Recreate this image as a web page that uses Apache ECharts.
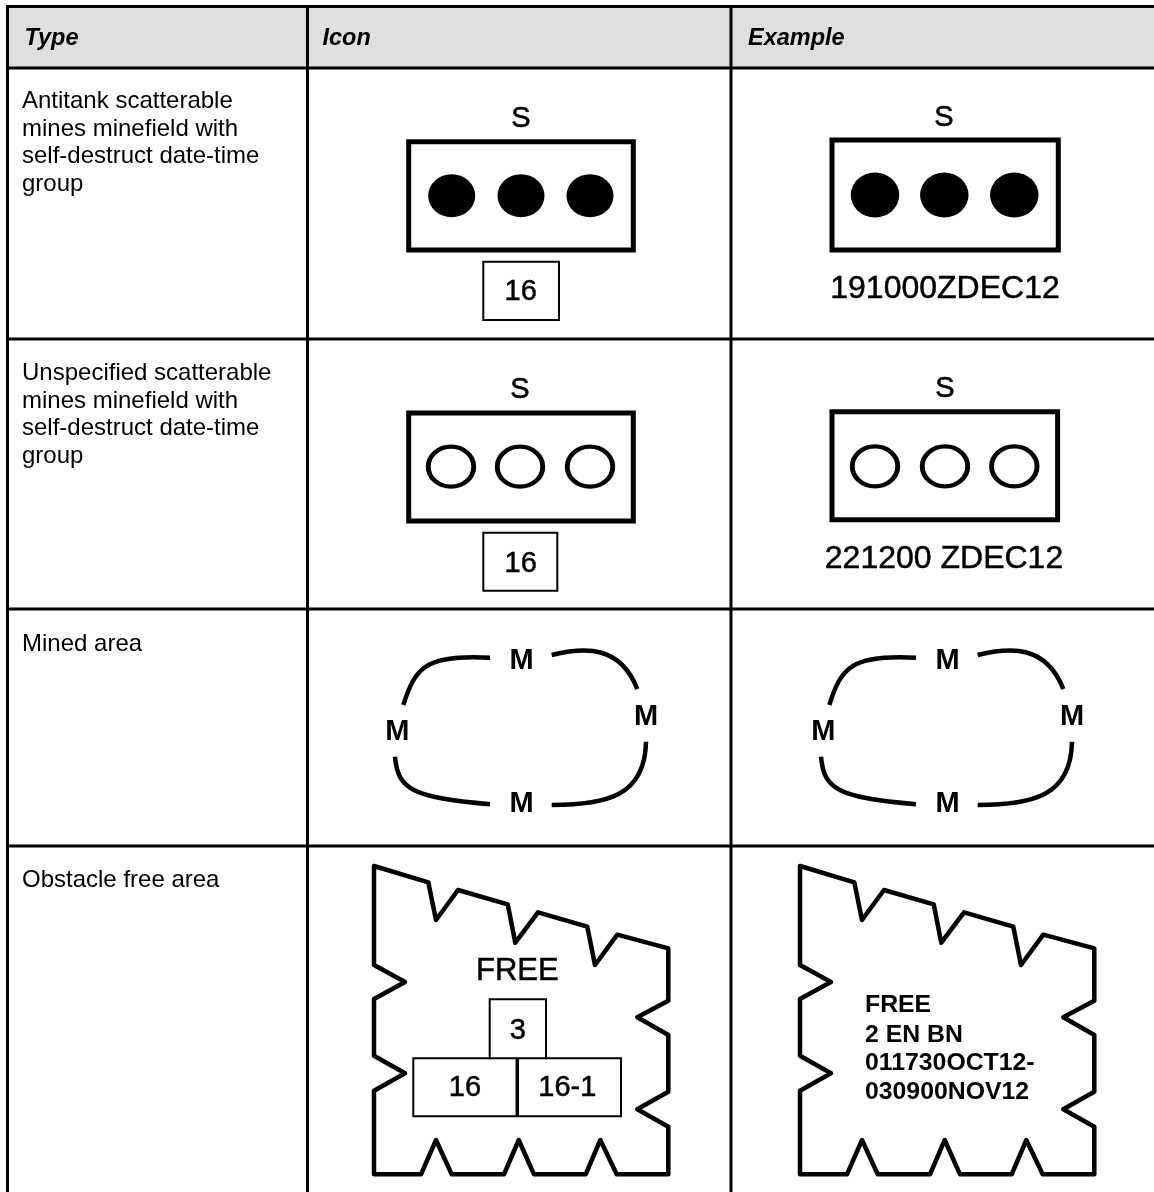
<!DOCTYPE html>
<html>
<head>
<meta charset="utf-8">
<style>html,body{margin:0;padding:0;background:#fff}#c{width:1154px;height:1192px}</style>
<script src="https://cdn.jsdelivr.net/npm/echarts@6/dist/echarts.min.js"></script>
</head>
<body>
<div id="c"></div>
<script>
// ---- table structure
const columnHeads = ['Type', 'Icon', 'Example'];
const columnEdges = [7.5, 307.5, 731];
const rowEdges = [6.5, 68, 339, 609, 846];
const pageRight = 1154, pageBottom = 1192;
const rowTypes = [
  ['Antitank scatterable', 'mines minefield with', 'self-destruct date-time', 'group'],
  ['Unspecified scatterable', 'mines minefield with', 'self-destruct date-time', 'group'],
  ['Mined area'],
  ['Obstacle free area']
];
// ---- symbol outlines
const heavyBoxes = [
  [408.7, 141.7, 633.3, 250], [832, 140, 1058.3, 250],
  [408.7, 413, 633.3, 521], [832, 411.7, 1057.6, 519.7]
];
const thinBoxes = [
  [483.3, 261.7, 559, 320], [483.3, 532.7, 557.3, 590.7],
  [413.3, 1058.3, 621, 1116.3]
];
const thinOpenLines = [
  [[489.7, 1058.3], [489.7, 999.3], [546, 999.3], [546, 1058.3]]
];
const dividerLine = [[517.3, 1058.3], [517.3, 1116.3]];
const filledMines = [[451.7, 195.7], [521, 195.7], [590, 195.7], [875, 195], [944.3, 195], [1014.3, 195]];
const hollowMines = [[451, 466.7], [520, 466.7], [590, 466.7], [875, 466.3], [945, 466.3], [1014.3, 466.3]];
// start, control 1, control 2, end
const minedCurveTL = [403.3, 705, 415, 668, 425, 654, 490, 657.7];
const minedCurveTR = [551.7, 655, 585, 647, 620, 645, 637.3, 689];
const minedCurveBL = [395, 756.7, 398, 790, 412, 797, 490, 804.3];
const minedCurveBR = [551.7, 805, 605, 805, 645, 797, 646, 741.7];
const obstacleOutline = [
  [374, 866], [428.3, 882.3], [436, 920], [458, 890], [507.7, 904.3], [515.3, 942.7], [538, 912.3],
  [587.3, 926.7], [595, 965], [617.3, 934.7], [668.3, 948.3], [668.3, 1000.7], [637.3, 1017.3],
  [668.3, 1035], [668.3, 1091.7], [637.3, 1109.3], [668.3, 1126.7], [668.3, 1174.3], [616.7, 1174.3],
  [600.3, 1140], [585.7, 1174.3], [534, 1174.3], [518.7, 1140], [504, 1174.3], [451.7, 1174.3],
  [436, 1140], [421, 1174.3], [374, 1174.3], [374, 1090.7], [405, 1073.3], [374, 1055.7], [374, 999],
  [405, 982], [374, 965], [374, 866]
];
const exampleShift = 426;
// ---- symbol labels
const letterLabels = [['S', 521, 117], ['S', 944, 116], ['S', 520, 388], ['S', 945, 387]];
const freeLabels = [['FREE', 517.3, 970]];
const numberLabels = [
  ['16', 520.7, 290.7], ['16', 520.7, 562.3], ['3', 517.7, 1029.3], ['16', 465, 1086.7], ['16-1', 567.3, 1086.7]
];
const dateLabels = [['191000ZDEC12', 945, 288], ['221200 ZDEC12', 944, 558]];
const mineLetters = [['M', 521.7, 659], ['M', 397.3, 730.7], ['M', 646, 715.7], ['M', 521.7, 802.7]];
const exampleBold = [['FREE', 865, 1003.3], ['2 EN BN', 865, 1033.3], ['011730OCT12-', 865, 1061.7], ['030900NOV12', 865, 1091]];

const FONT = '"Liberation Sans", Arial, sans-serif';
const TEXT_DROP = 1.5;
const shift = pts => pts.map(p => [p[0] + exampleShift, p[1]]);
const boxPath = b => [[b[0], b[1]], [b[2], b[1]], [b[2], b[3]], [b[0], b[3]], [b[0], b[1]]];

function lineSeries(data, width, extra) {
  return Object.assign({
    type: 'line', data, showSymbol: false, symbol: 'none', silent: true, clip: false,
    animation: false, z: 3,
    lineStyle: { color: '#000', width, join: 'miter', cap: 'square', miterLimit: 10 }
  }, extra || {});
}
function textSeries(items, fontSize, fontWeight, align, fontStyle, weight) {
  return {
    type: 'scatter', symbolSize: 1, silent: true, animation: false, z: 5, clip: false,
    itemStyle: { color: 'rgba(0,0,0,0)', opacity: 1 },
    data: items.map(t => ({ value: [t[1], t[2] + TEXT_DROP], name: t[0] })),
    label: {
      show: true, position: 'inside', formatter: p => p.name, color: '#000', fontFamily: FONT,
      fontSize, fontWeight, fontStyle: fontStyle || 'normal', align, verticalAlign: 'middle', padding: 0,
      textBorderColor: '#000', textBorderWidth: weight || 0, opacity: 1
    }
  };
}
function ellipseSeries(data, size, fill, border) {
  return {
    type: 'scatter', data, symbol: 'circle', symbolSize: size, silent: true, animation: false, z: 4,
    itemStyle: { color: fill, borderColor: '#000', borderWidth: border, opacity: 1 }
  };
}

const series = [];
// header band
series.push({
  type: 'custom', silent: true, animation: false, z: 1, clip: false,
  data: [[columnEdges[0], rowEdges[0], pageRight, rowEdges[1]]],
  renderItem: (params, api) => {
    const a = api.coord([api.value(0), api.value(1)]);
    const b = api.coord([api.value(2), api.value(3)]);
    return { type: 'rect', shape: { x: a[0], y: a[1], width: b[0] - a[0], height: b[1] - a[1] }, style: { fill: '#dfdfdf' } };
  }
});
// table rules
rowEdges.forEach(y => series.push(lineSeries([[columnEdges[0] - 1.5, y], [pageRight, y]], 3, { z: 2, lineStyle: { color: '#000', width: 3, cap: 'butt' } })));
columnEdges.forEach(x => series.push(lineSeries([[x, rowEdges[0] - 1.5], [x, pageBottom]], 3, { z: 2, lineStyle: { color: '#000', width: 3, cap: 'butt' } })));
// symbols
heavyBoxes.forEach(b => series.push(lineSeries(boxPath(b), 5)));
thinBoxes.forEach(b => series.push(lineSeries(boxPath(b), 2)));
thinOpenLines.forEach(l => series.push(lineSeries(l, 2)));
series.push(lineSeries(dividerLine, 4, { lineStyle: { color: '#000', width: 3.5, cap: 'butt' } }));
// mined-area arcs, icon and example
const curves = [minedCurveTL, minedCurveTR, minedCurveBL, minedCurveBR];
const curveRows = [];
curves.forEach(c => {
  curveRows.push(c);
  curveRows.push(c.map((v, i) => i % 2 === 0 ? v + exampleShift : v));
});
series.push({
  type: 'custom', silent: true, animation: false, z: 3, clip: false,
  encode: { x: [0, 2, 4, 6], y: [1, 3, 5, 7] },
  data: curveRows,
  renderItem: (params, api) => {
    const p = [0, 2, 4, 6].map(i => api.coord([api.value(i), api.value(i + 1)]));
    return {
      type: 'bezierCurve',
      shape: { x1: p[0][0], y1: p[0][1], cpx1: p[1][0], cpy1: p[1][1], cpx2: p[2][0], cpy2: p[2][1], x2: p[3][0], y2: p[3][1] },
      style: { stroke: '#000', lineWidth: 4.5, fill: null, lineCap: 'butt' }
    };
  }
});
[obstacleOutline, shift(obstacleOutline)].forEach(d => series.push(lineSeries(d, 4.5, { lineStyle: { color: '#000', width: 4.5, join: 'round', cap: 'round' } })));
series.push(ellipseSeries(filledMines.slice(0, 3), [47, 43], '#000', 0));
series.push(ellipseSeries(filledMines.slice(3), [48.5, 45], '#000', 0));
series.push(ellipseSeries(hollowMines, [45.5, 40], '#fff', 4.6));
// text
const headRow = columnHeads.map((h, i) => [h, [24.5, 322.5, 748][i], 37]);
series.push(textSeries(headRow, 23.5, 'bold', 'left', 'italic'));
const typeLines = [];
rowTypes.forEach((lines, r) => lines.forEach((s, i) => typeLines.push([s, 22, [100, 372, 643, 879][r] + i * 27.6])));
series.push(textSeries(typeLines, 24, 'normal', 'left'));
series.push(textSeries(letterLabels, 29, 'normal', 'center', 'normal', 0.6));
series.push(textSeries(freeLabels, 31, 'normal', 'center', 'normal', 0.5));
series.push(textSeries(numberLabels, 29, 'normal', 'center', 'normal', 0.5));
series.push(textSeries(dateLabels, 32, 'normal', 'center', 'normal', 0.5));
series.push(textSeries(mineLetters, 29, 'bold', 'center'));
series.push(textSeries(mineLetters.map(t => [t[0], t[1] + exampleShift, t[2]]), 29, 'bold', 'center'));
series.push(textSeries(exampleBold, 24.8, 'bold', 'left'));

const chart = echarts.init(document.getElementById('c'), null, { renderer: 'canvas' });
chart.setOption({
  backgroundColor: '#fff',
  animation: false,
  tooltip: { show: false },
  grid: { left: 0, right: 0, top: 0, bottom: 0, containLabel: false },
  xAxis: { type: 'value', min: 0, max: pageRight, show: false },
  yAxis: { type: 'value', min: 0, max: pageBottom, inverse: true, show: false },
  series
});
</script>
</body>
</html>
